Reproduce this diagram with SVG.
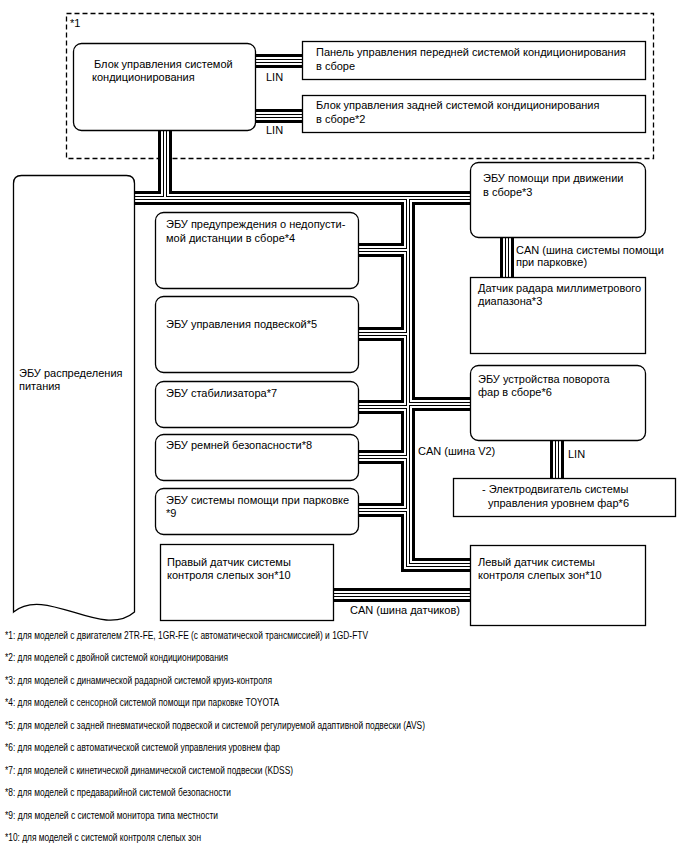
<svg xmlns="http://www.w3.org/2000/svg" width="688" height="852" viewBox="0 0 688 852">
<style>
text{font-family:"Liberation Sans",Arial,sans-serif;font-size:11px;fill:#000}
.fn{font-size:10px}
.box{fill:#fff;stroke:#000;stroke-width:1.3}
.dash{fill:none;stroke:#000;stroke-width:1.3;stroke-dasharray:5 3}
.l1{fill:none;stroke:#000;stroke-width:14}
.l2{fill:none;stroke:#fff;stroke-width:8}
.l3{fill:none;stroke:#000;stroke-width:4}
.l4{fill:none;stroke:#fff;stroke-width:2}
</style>
<defs>
<g id="buses">
<path d="M250 61H308"/>
<path d="M250 116H308"/>
<path d="M165 125V198"/>
<path d="M130 198H476"/>
<path d="M408 198V565H476"/>
<path d="M352 250H408"/>
<path d="M352 334H408"/>
<path d="M352 407H408"/>
<path d="M352 457H408"/>
<path d="M352 510H408"/>
<path d="M408 404H476"/>
<path d="M507 232V282"/>
<path d="M557 435V483"/>
<path d="M328 595H476"/>
</g>
</defs>
<rect width="688" height="852" fill="#fff"/>
<g id="group-1">
<rect class="dash" x="66.5" y="13.5" width="587" height="145"/>
<text x="70" y="27">*1</text>
</g>
<g id="connectors">
<use href="#buses" class="l1"/>
<use href="#buses" class="l2"/>
<use href="#buses" class="l3"/>
<use href="#buses" class="l4"/>
<text x="266" y="80.5">LIN</text>
<text x="266" y="134">LIN</text>
<text x="516" y="253.5">CAN (шина системы помощи</text>
<text x="516" y="266">при парковке)</text>
<text x="418" y="455">CAN (шина V2)</text>
<text x="568" y="458">LIN</text>
<text x="350" y="614">CAN (шина датчиков)</text>
</g>
<g id="ac-control">
<rect class="box" x="73.5" y="43.5" width="182" height="87" rx="8"/>
<text x="94" y="68">Блок управления системой</text>
<text x="92" y="81">кондиционирования</text>
</g>
<g id="front-panel">
<rect class="box" x="302.5" y="41.5" width="343" height="38"/>
<text x="316" y="55.5">Панель управления передней системой кондиционирования</text>
<text x="316" y="69.5">в сборе</text>
</g>
<g id="rear-panel">
<rect class="box" x="302.5" y="95.5" width="343" height="37"/>
<text x="316" y="109">Блок управления задней системой кондиционирования</text>
<text x="316" y="123">в сборе*2</text>
</g>
<g id="power-ecu">
<path class="box" d="M13.5 612V183.5Q13.5 175.5 21.5 175.5H126.5Q134.5 175.5 134.5 183.5V612C102 640 46 585 13.5 612Z"/>
<text x="19" y="377">ЭБУ распределения</text>
<text x="19" y="390">питания</text>
</g>
<g id="ecu-4">
<rect class="box" x="155.5" y="212.5" width="203" height="76" rx="8"/>
<text x="166" y="227.5">ЭБУ предупреждения о недопусти-</text>
<text x="166" y="241.5">мой дистанции в сборе*4</text>
</g>
<g id="ecu-5">
<rect class="box" x="155.5" y="296.5" width="203" height="76" rx="8"/>
<text x="166" y="327.5">ЭБУ управления подвеской*5</text>
</g>
<g id="ecu-7">
<rect class="box" x="155.5" y="381.5" width="203" height="46" rx="8"/>
<text x="166" y="397">ЭБУ стабилизатора*7</text>
</g>
<g id="ecu-8">
<rect class="box" x="155.5" y="434.5" width="203" height="46" rx="8"/>
<text x="166" y="448.5">ЭБУ ремней безопасности*8</text>
</g>
<g id="ecu-9">
<rect class="box" x="155.5" y="488.5" width="203" height="46" rx="8"/>
<text x="166" y="504">ЭБУ системы помощи при парковке</text>
<text x="166" y="517">*9</text>
</g>
<g id="driving-ecu">
<rect class="box" x="470.5" y="162.5" width="175" height="75" rx="8"/>
<text x="483" y="182">ЭБУ помощи при движении</text>
<text x="483" y="196">в сборе*3</text>
</g>
<g id="radar">
<rect class="box" x="470.5" y="277.5" width="175" height="76"/>
<text x="478" y="291.5">Датчик радара миллиметрового</text>
<text x="478" y="305">диапазона*3</text>
</g>
<g id="headlight-ecu">
<rect class="box" x="470.5" y="365.5" width="175" height="75" rx="8"/>
<text x="478" y="382.5">ЭБУ устройства поворота</text>
<text x="478" y="396">фар в сборе*6</text>
</g>
<g id="leveling-motor">
<rect class="box" x="453.5" y="478.5" width="222" height="38"/>
<text x="482" y="492.5">- Электродвигатель системы</text>
<text x="488" y="507">управления уровнем фар*6</text>
</g>
<g id="right-bsm">
<rect class="box" x="160.5" y="544.5" width="173" height="76"/>
<text x="167" y="566">Правый датчик системы</text>
<text x="167" y="579">контроля слепых зон*10</text>
</g>
<g id="left-bsm">
<rect class="box" x="470.5" y="545.5" width="175" height="80"/>
<text x="478" y="566">Левый датчик системы</text>
<text x="478" y="579">контроля слепых зон*10</text>
</g>
<g id="footnotes">
<text class="fn" x="5" y="638.5" textLength="363" lengthAdjust="spacingAndGlyphs">*1: для моделей с двигателем 2TR-FE, 1GR-FE (с автоматической трансмиссией) и 1GD-FTV</text>
<text class="fn" x="5" y="661" textLength="223" lengthAdjust="spacingAndGlyphs">*2: для моделей с двойной системой кондиционирования</text>
<text class="fn" x="5" y="683.5" textLength="267" lengthAdjust="spacingAndGlyphs">*3: для моделей с динамической радарной системой круиз-контроля</text>
<text class="fn" x="5" y="706" textLength="274" lengthAdjust="spacingAndGlyphs">*4: для моделей с сенсорной системой помощи при парковке TOYOTA</text>
<text class="fn" x="5" y="728.5" textLength="420" lengthAdjust="spacingAndGlyphs">*5: для моделей с задней пневматической подвеской и системой регулируемой адаптивной подвески (AVS)</text>
<text class="fn" x="5" y="751" textLength="275" lengthAdjust="spacingAndGlyphs">*6: для моделей с автоматической системой управления уровнем фар</text>
<text class="fn" x="5" y="773.5" textLength="288" lengthAdjust="spacingAndGlyphs">*7: для моделей с кинетической динамической системой подвески (KDSS)</text>
<text class="fn" x="5" y="796" textLength="226" lengthAdjust="spacingAndGlyphs">*8: для моделей с предаварийной системой безопасности</text>
<text class="fn" x="5" y="818.5" textLength="213" lengthAdjust="spacingAndGlyphs">*9: для моделей с системой монитора типа местности</text>
<text class="fn" x="5" y="841" textLength="196" lengthAdjust="spacingAndGlyphs">*10: для моделей с системой контроля слепых зон</text>
</g>
</svg>
